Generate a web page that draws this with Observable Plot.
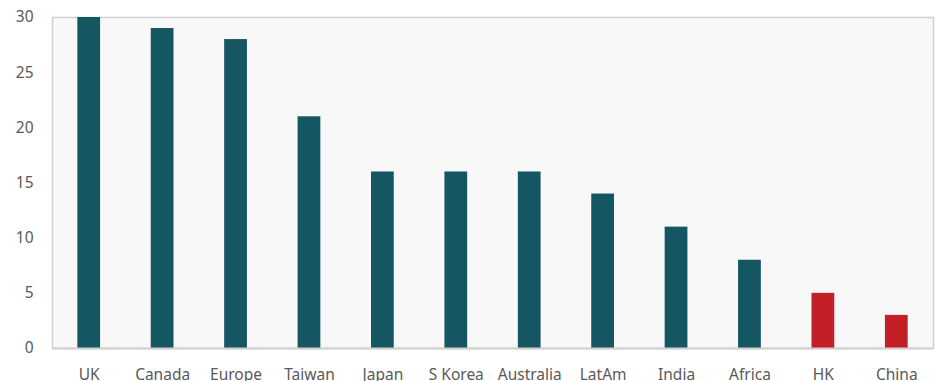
<!DOCTYPE html>
<html>
<head>
<meta charset="utf-8">
<script src="https://cdn.jsdelivr.net/npm/d3@7"></script>
<script src="https://cdn.jsdelivr.net/npm/@observablehq/plot@0.6"></script>
<style>
  html, body { margin: 0; padding: 0; background: #ffffff; }
  #chart svg { display: block; }
</style>
</head>
<body>
<div id="chart"></div>
<script>
const categories = ["UK", "Canada", "Europe", "Taiwan", "Japan", "S Korea", "Australia", "LatAm", "India", "Africa", "HK", "China"];
const values = [30, 29, 28, 21, 16, 16, 16, 14, 11, 8, 5, 3];
const groups = ["other", "other", "other", "other", "other", "other", "other", "other", "other", "other", "china", "china"];
const yTicks = [0, 5, 10, 15, 20, 25, 30];

const data = categories.map((c, i) => ({category: c, value: values[i], group: groups[i]}));

const chart = Plot.plot({
  width: 938,
  height: 381,
  marginTop: 17,
  marginLeft: 52,
  marginRight: 5,
  marginBottom: 33,
  style: {fontFamily: "'Noto Sans', sans-serif", fontSize: "15.5px", color: "#595959", background: "#ffffff"},
  x: {domain: categories, paddingInner: 0.69, paddingOuter: 0.345, round: false, label: null, tickSize: 0, tickPadding: 20},
  y: {domain: [0, 30], ticks: yTicks, label: null, tickSize: 0, tickPadding: 19},
  color: {domain: ["other", "china"], range: ["#155663", "#c21f27"]},
  marks: [
    Plot.frame({fill: "#f8f8f8", stroke: "#d0d0d0", strokeWidth: 1.5}),
    Plot.barY(data, {x: "category", y: "value", fill: "group"}),
    Plot.ruleY([0], {stroke: "#d0d0d0", strokeWidth: 2})
  ]
});
document.getElementById("chart").appendChild(chart);
</script>
</body>
</html>
